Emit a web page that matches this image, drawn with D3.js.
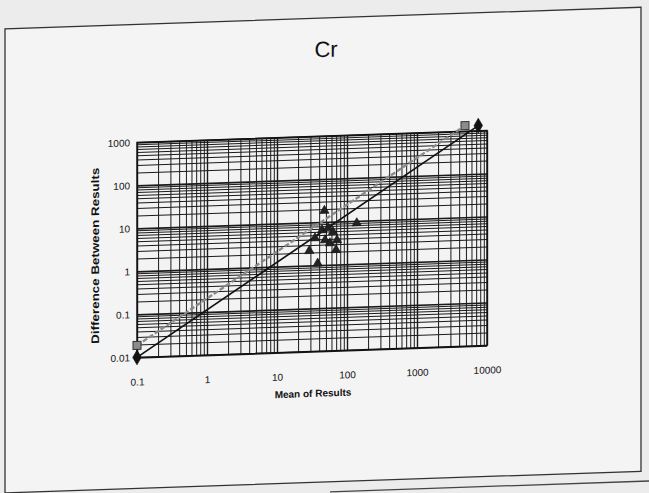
<!DOCTYPE html>
<html>
<head>
<meta charset="utf-8">
<script src="https://cdn.jsdelivr.net/npm/d3@7"></script>
<style>
  html, body { margin: 0; padding: 0; background: #ededed; }
  svg { display: block; }
  text { font-family: "Liberation Sans", Arial, sans-serif; fill: #111; }
</style>
</head>
<body>
<svg id="chart" width="649" height="493"></svg>
<script>
// ---- data ----
const chartTitle = "Cr";
const xAxisTitle = "Mean of Results";
const yAxisTitle = "Difference Between Results";
const xTickValues = [0.1, 1, 10, 100, 1000, 10000];
const xTickLabels = ["0.1", "1", "10", "100", "1000", "10000"];
const yTickValues = [0.01, 0.1, 1, 10, 100, 1000];
const yTickLabels = ["0.01", "0.1", "1", "10", "100", "1000"];

// solid black reference line with diamond ends
const solidLineMean = [0.1, 7500];
const solidLineDiff = [0.01, 1320];
// dashed grey reference line with square ends
const dashedLineMean = [0.1, 4850];
const dashedLineDiff = [0.019, 1350];

// measured pairs (triangles)
const pointMean = [47.5, 138, 28.9, 69.7, 38.1, 34.9, 44, 53.5, 63, 48.5, 72, 57];
const pointDiff = [18.3, 8.9, 2.2, 2.2, 1.1, 4.3, 6.5, 7.2, 5.8, 3.8, 3.7, 3.2];

// ---- drawing ----
(function () {
const svg = d3.select("#chart");
const W = 649, H = 493;
svg.append("rect").attr("width", W).attr("height", H).attr("fill", "#ececec");

// the scanned page is slightly skewed
const skewDeg = -Math.atan(0.034) * 180 / Math.PI;
const g = svg.append("g")
  .attr("transform", `translate(325,0) skewY(${skewDeg}) translate(-325,0)`);

// page frame
g.append("rect").attr("x", 5).attr("y", 18).attr("width", 636).attr("height", 464)
  .attr("fill", "#f4f4f4").attr("stroke", "#333").attr("stroke-width", 1.3);
g.append("line").attr("x1", 330).attr("x2", 660).attr("y1", 492).attr("y2", 492)
  .attr("stroke", "#444").attr("stroke-width", 1.3);

const pL = 137, pR = 487, pT = 136, pB = 351;
const x = d3.scaleLog().domain([0.1, 10000]).range([pL, pR]);
const y = d3.scaleLog().domain([0.01, 1000]).range([pB, pT]);

g.append("rect").attr("x", pL).attr("y", pT).attr("width", pR - pL).attr("height", pB - pT)
  .attr("fill", "#f3f3f3");

const isMajor = v => Math.abs(Math.log10(v) - Math.round(Math.log10(v))) < 1e-9;

// vertical grid
const xGrid = g.append("g").attr("transform", `translate(0,${pB})`)
  .call(d3.axisBottom(x).tickValues(x.ticks()).tickSize(-(pB - pT)).tickFormat(""));
xGrid.select(".domain").remove();
xGrid.selectAll(".tick line")
  .attr("stroke", "#1a1a1a")
  .attr("stroke-width", d => isMajor(d) ? 1.4 : 1.0);

// horizontal grid
const yGrid = g.append("g").attr("transform", `translate(${pL},0)`)
  .call(d3.axisLeft(y).tickValues(y.ticks()).tickSize(-(pR - pL)).tickFormat(""));
yGrid.select(".domain").remove();
yGrid.selectAll(".tick line")
  .attr("stroke", "#1a1a1a")
  .attr("stroke-width", d => isMajor(d) ? 1.6 : 1.0);

// plot border
g.append("rect").attr("x", pL).attr("y", pT).attr("width", pR - pL).attr("height", pB - pT)
  .attr("fill", "none").attr("stroke", "#111").attr("stroke-width", 1.4);

// tick labels via axes
const xAxis = g.append("g").attr("transform", `translate(0,${pB})`)
  .call(d3.axisBottom(x).tickValues(xTickValues).tickSize(0).tickPadding(21)
    .tickFormat((d, i) => xTickLabels[i]));
xAxis.select(".domain").remove();
xAxis.selectAll("text").attr("font-size", 10).style("font-family", '"Liberation Sans", Arial, sans-serif')
  .attr("fill", "#1a1a1a");

const yAxis = g.append("g").attr("transform", `translate(${pL},0)`)
  .call(d3.axisLeft(y).tickValues(yTickValues).tickSize(0).tickPadding(7)
    .tickFormat((d, i) => yTickLabels[i]));
yAxis.select(".domain").remove();
yAxis.selectAll("text").attr("font-size", 10).style("font-family", '"Liberation Sans", Arial, sans-serif')
  .attr("fill", "#1a1a1a");

// reference lines
const lineGen = d3.line().x(d => x(d[0])).y(d => y(d[1]));
const dashedPts = dashedLineMean.map((m, i) => [m, dashedLineDiff[i]]);
const solidPts = solidLineMean.map((m, i) => [m, solidLineDiff[i]]);

g.append("path").datum(dashedPts).attr("d", lineGen)
  .attr("fill", "none").attr("stroke", "#8a8a8a").attr("stroke-width", 2.4)
  .attr("stroke-dasharray", "5,2");
g.append("path").datum(solidPts).attr("d", lineGen)
  .attr("fill", "none").attr("stroke", "#111").attr("stroke-width", 1.7);

// scatter triangles
const pts = pointMean.map((m, i) => [m, pointDiff[i]]);
g.selectAll(".tri").data(pts).enter().append("path")
  .attr("class", "tri")
  .attr("transform", d => `translate(${x(d[0])},${y(d[1])})`)
  .attr("d", d3.symbol().type(d3.symbolTriangle).size(38))
  .attr("fill", "#222").attr("stroke", "#111").attr("stroke-width", 0.6);

// line end markers
g.selectAll(".sq").data(dashedPts).enter().append("path")
  .attr("class", "sq")
  .attr("transform", d => `translate(${x(d[0])},${y(d[1])})`)
  .attr("d", d3.symbol().type(d3.symbolSquare).size(64))
  .attr("fill", "#8c8c8c").attr("stroke", "#333").attr("stroke-width", 1);
g.selectAll(".dia").data(solidPts).enter().append("path")
  .attr("class", "dia")
  .attr("transform", d => `translate(${x(d[0])},${y(d[1])})`)
  .attr("d", d3.symbol().type(d3.symbolDiamond).size(64))
  .attr("fill", "#111").attr("stroke", "#111").attr("stroke-width", 0.6);

// titles
g.append("text").attr("x", 326).attr("y", 57).attr("text-anchor", "middle")
  .attr("font-size", 22).text(chartTitle);
g.append("text").attr("x", 313).attr("y", 396.5).attr("text-anchor", "middle")
  .attr("font-size", 10).attr("font-weight", "bold").text(xAxisTitle);
g.append("text").attr("transform", "translate(99,248) rotate(-90)")
  .attr("text-anchor", "middle").attr("font-size", 11).attr("font-weight", "bold")
  .attr("textLength", 176).attr("lengthAdjust", "spacingAndGlyphs")
  .text(yAxisTitle);
})();
</script>
</body>
</html>
